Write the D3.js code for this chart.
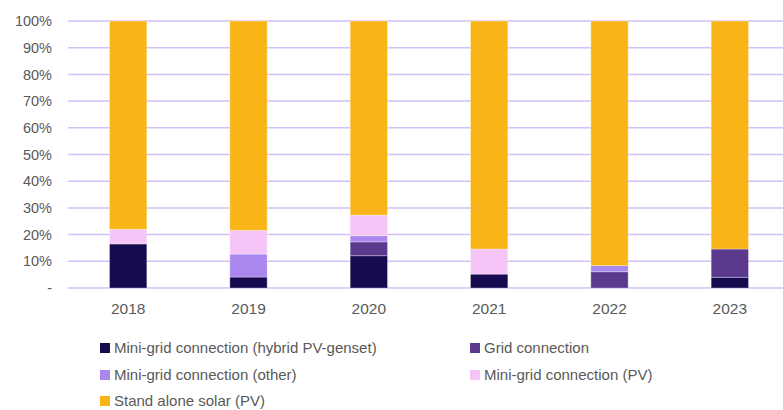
<!DOCTYPE html>
<html>
<head>
<meta charset="utf-8">
<script src="https://cdn.jsdelivr.net/npm/d3@7"></script>
<style>
  body { margin: 0; background: #fff; }
  svg text { font-family: "Liberation Sans", Arial, sans-serif; fill: #595959; }
</style>
</head>
<body>
<div id="chart"></div>
<script>
// Share of electrification method by year (percent)
const years = ['2018', '2019', '2020', '2021', '2022', '2023']
const seriesNames = [
    'Mini-grid connection (hybrid PV-genset)',
    'Grid connection',
    'Mini-grid connection (other)',
    'Mini-grid connection (PV)',
    'Stand alone solar (PV)'
]
const hybrid    = [16.5, 4.1, 12.1, 5.2, 0, 4.0]
const grid      = [0, 0, 5.2, 0, 6.1, 10.6]
const other     = [0, 8.6, 2.3, 0, 2.3, 0]
const pv        = [5.5, 8.9, 7.7, 9.4, 0, 0]
const standalone = years.map((y, i) => 100 - hybrid[i] - grid[i] - other[i] - pv[i])
const yTicks = [0, 10, 20, 30, 40, 50, 60, 70, 80, 90, 100]
const colors = ['#170a4e', '#5b3a8e', '#a987ef', '#f5c5f8', '#f9b517']

const W = 783, H = 410
const margin = {top: 21, right: -7, bottom: 122, left: 68}
const width = W - margin.left - margin.right
const height = H - margin.top - margin.bottom

const rows = years.map((y, i) => ({
    year: y,
    [seriesNames[0]]: hybrid[i],
    [seriesNames[1]]: grid[i],
    [seriesNames[2]]: other[i],
    [seriesNames[3]]: pv[i],
    [seriesNames[4]]: standalone[i]
}))
const stacked = d3.stack().keys(seriesNames)(rows)

const svg = d3.select('#chart').append('svg')
    .attr('width', W)
    .attr('height', H)
  .append('g')
    .attr('transform', `translate(${margin.left},${margin.top})`)

let x = d3.scaleBand()
    .domain(years)
    .range([0, width])
    .paddingInner(0.69)
    .paddingOuter(0.345)

let y = d3.scaleLinear()
    .domain([0, 100])
    .range([height, 0])

// gridlines
svg.append('g')
    .selectAll('line')
    .data(yTicks)
    .join('line')
      .attr('x1', 0)
      .attr('x2', width)
      .attr('y1', d => y(d))
      .attr('y2', d => y(d))
      .attr('stroke', '#d2c1f6')
      .attr('stroke-width', 1.5)

// bars
svg.append('g')
    .selectAll('g')
    .data(stacked)
    .join('g')
      .attr('fill', (d, i) => colors[i])
    .selectAll('rect')
    .data(d => d.filter(s => s[1] - s[0] > 0))
    .join('rect')
      .attr('x', d => x(d.data.year))
      .attr('y', d => y(d[1]))
      .attr('width', x.bandwidth())
      .attr('height', d => y(d[0]) - y(d[1]))
      .attr('stroke', '#fff')
      .attr('stroke-opacity', 0.3)
      .attr('stroke-width', 1)

// y axis labels
let yAxis = d3.axisLeft(y)
    .tickValues(yTicks)
    .tickSize(0)
    .tickPadding(16)
    .tickFormat(d => d === 0 ? '-' : d + '%')

svg.append('g')
    .attr('class', 'y-axis')
    .call(yAxis)
    .call(g => g.select('.domain').remove())
    .selectAll('text')
      .style('font-size', '14.5px')
      .attr('fill', '#595959')

// x axis labels
let xAxis = d3.axisBottom(x).tickSize(0).tickPadding(15)
svg.append('g')
    .attr('class', 'x-axis')
    .attr('transform', `translate(0,${height})`)
    .call(xAxis)
    .call(g => g.select('.domain').remove())
    .selectAll('text')
      .style('font-size', '15.5px')
      .attr('fill', '#595959')

// legend
const legendPos = [[100, 348], [470, 348], [100, 375], [470, 375], [100, 401]]
const legend = d3.select('svg').append('g')
    .selectAll('g')
    .data(seriesNames)
    .join('g')
      .attr('transform', (d, i) => `translate(${legendPos[i][0]},${legendPos[i][1]})`)

legend.append('rect')
    .attr('x', 0)
    .attr('y', -5)
    .attr('width', 10)
    .attr('height', 10)
    .attr('fill', (d, i) => colors[i])

legend.append('text')
    .attr('x', 14)
    .attr('dy', '0.35em')
    .style('font-size', '15px')
    .text(d => d)
</script>
</body>
</html>
